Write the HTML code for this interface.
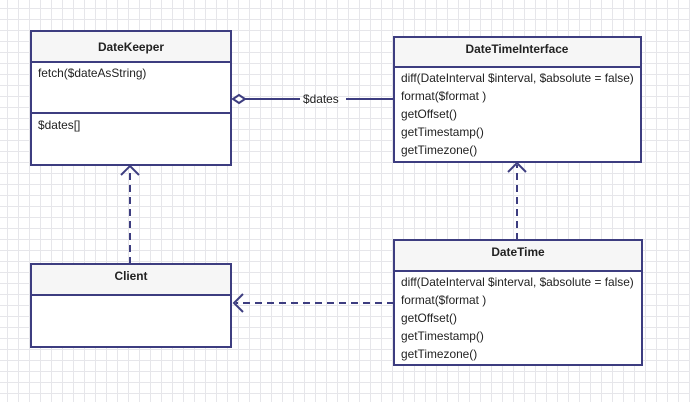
<!DOCTYPE html>
<html><head><style>
body{margin:0;width:690px;height:402px;overflow:hidden;background:#fff;
background-image:linear-gradient(#e6e6ea 1px,transparent 1px),linear-gradient(90deg,#e6e6ea 1px,transparent 1px);
background-size:11px 11px;background-position:-4px -3px;font-family:"Liberation Sans",sans-serif;}
svg{position:absolute;left:0;top:0}
text{font-family:"Liberation Sans",sans-serif;font-size:11.9px;fill:#222}
.b{font-weight:bold;fill:#222}
</style></head><body>
<svg width="690" height="402">
<g stroke="#3d3d80" stroke-width="2">
<rect x="31" y="31" width="200" height="134" fill="#fff"/>
<rect x="32" y="32" width="198" height="30" fill="#f6f6f6" stroke="none"/>
<line x1="31" y1="62" x2="231" y2="62"/><line x1="31" y1="113" x2="231" y2="113"/>
<rect x="394" y="37" width="247" height="125" fill="#fff"/>
<rect x="395" y="38" width="245" height="29" fill="#f6f6f6" stroke="none"/>
<line x1="394" y1="67" x2="641" y2="67"/>
<rect x="31" y="264" width="200" height="83" fill="#fff"/>
<rect x="32" y="265" width="198" height="30" fill="#f6f6f6" stroke="none"/>
<line x1="31" y1="295" x2="231" y2="295"/>
<rect x="394" y="240" width="248" height="125" fill="#fff"/>
<rect x="395" y="241" width="246" height="30" fill="#f6f6f6" stroke="none"/>
<line x1="394" y1="271" x2="642" y2="271"/>
</g>
<g stroke="#3d3d80" stroke-width="2" fill="none">
<path d="M233 99 L239 95 L245 99 L239 103 Z" fill="#fff"/>
<line x1="245" y1="99" x2="300" y2="99"/>
<line x1="346" y1="99" x2="394" y2="99"/>
<line x1="130" y1="264" x2="130" y2="168" stroke-dasharray="7,5"/>
<path d="M121 175 L130 166 L139 175"/>
<line x1="517" y1="240" x2="517" y2="165" stroke-dasharray="7,5"/>
<path d="M508 172 L517 163 L526 172"/>
<line x1="394" y1="303" x2="236" y2="303" stroke-dasharray="7,5"/>
<path d="M243 294 L234 303 L243 312"/>
</g>
<text x="303" y="103">$dates</text>
<text class="b" x="131" y="51" text-anchor="middle">DateKeeper</text>
<text x="38" y="77">fetch($dateAsString)</text>
<text x="38" y="129">$dates[]</text>
<text class="b" x="517" y="53" text-anchor="middle">DateTimeInterface</text>
<text x="401" y="82">diff(DateInterval $interval, $absolute = false)</text>
<text x="401" y="100">format($format )</text>
<text x="401" y="118">getOffset()</text>
<text x="401" y="136">getTimestamp()</text>
<text x="401" y="154">getTimezone()</text>
<text class="b" x="131" y="280" text-anchor="middle">Client</text>
<text class="b" x="518" y="256" text-anchor="middle">DateTime</text>
<text x="401" y="286">diff(DateInterval $interval, $absolute = false)</text>
<text x="401" y="304">format($format )</text>
<text x="401" y="322">getOffset()</text>
<text x="401" y="340">getTimestamp()</text>
<text x="401" y="358">getTimezone()</text>
</svg>
</body></html>
